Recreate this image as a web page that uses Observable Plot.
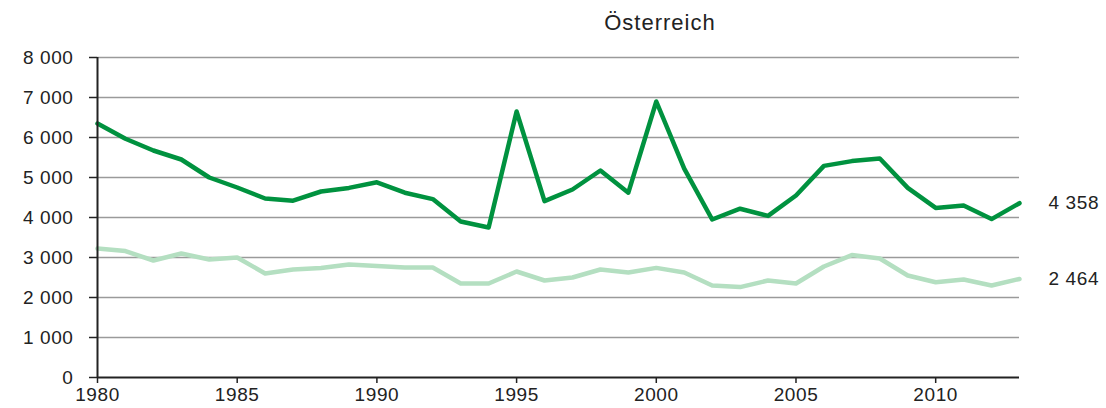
<!DOCTYPE html>
<html>
<head>
<meta charset="utf-8">
<script src="https://cdn.jsdelivr.net/npm/d3@7"></script>
<script src="https://cdn.jsdelivr.net/npm/@observablehq/plot@0.6"></script>
<style>
  body { margin: 0; background: #fff; }
  #title { width: 1106px; box-sizing: border-box; padding-left: 214px; height: 40px; text-align: center;
    font-family: "Liberation Sans", Arial, sans-serif; font-size: 22px; letter-spacing: 1px; color: #222; line-height: 46px; }
</style>
</head>
<body>
<div id="title">Österreich</div>
<div id="chart"></div>
<script>
const years = d3.range(1980, 2014);
const darkValues = [6350, 5970, 5675, 5450, 5000, 4750, 4475, 4420, 4650, 4740, 4880, 4620, 4460, 3900, 3750, 6650, 4410, 4700, 5175, 4620, 6900, 5220, 3950, 4220, 4040, 4550, 5290, 5410, 5475, 4740, 4240, 4300, 3960, 4358];
const lightValues = [3225, 3160, 2925, 3100, 2950, 3000, 2600, 2700, 2740, 2825, 2790, 2750, 2750, 2350, 2350, 2650, 2425, 2500, 2700, 2625, 2740, 2625, 2300, 2260, 2425, 2350, 2775, 3060, 2975, 2550, 2380, 2450, 2300, 2464];
const yTicks = [0, 1000, 2000, 3000, 4000, 5000, 6000, 7000, 8000];
const xTicks = [1980, 1985, 1990, 1995, 2000, 2005, 2010];

const fmt = d3.formatLocale({thousands: " ", grouping: [3], decimal: ","}).format(",");
const dark = years.map((y, i) => ({year: y, value: darkValues[i]}));
const light = years.map((y, i) => ({year: y, value: lightValues[i]}));
const last = [dark[dark.length - 1], light[light.length - 1]];
const font = "Liberation Sans, Arial, sans-serif";

const chart = Plot.plot({
  width: 1106,
  height: 368,
  marginTop: 17,
  marginBottom: 31,
  marginLeft: 97,
  marginRight: 87,
  style: {fontFamily: font, fontSize: "19px", color: "#222", letterSpacing: "0.6px", background: "#fff"},
  x: {domain: [1980, 2013]},
  y: {domain: [0, 8000]},
  marks: [
    Plot.gridY(yTicks.filter(d => d > 0), {stroke: "#9a9a9a", strokeOpacity: 1, strokeWidth: 1.5}),
    Plot.axisY(yTicks, {label: null, tickSize: 8, tickPadding: 16, tickFormat: fmt, stroke: "#222", strokeWidth: 1.5, fill: "#222"}),
    Plot.axisX(xTicks, {label: null, tickSize: 6, tickPadding: 4, tickFormat: d => String(d), stroke: "#222", strokeWidth: 1.5, fill: "#222"}),
    Plot.line(light, {x: "year", y: "value", stroke: "#b4dfc1", strokeWidth: 4.5}),
    Plot.line(dark, {x: "year", y: "value", stroke: "#00923f", strokeWidth: 4.5}),
    Plot.ruleY([0], {stroke: "#222", strokeWidth: 2}),
    Plot.ruleX([1980], {y1: 0, y2: 8000, stroke: "#222", strokeWidth: 2}),
    Plot.text(last, {x: "year", y: "value", text: d => fmt(d.value), dx: 29, textAnchor: "start", fill: "#222", fontSize: 19})
  ]
});
document.getElementById("chart").appendChild(chart);
</script>
</body>
</html>
